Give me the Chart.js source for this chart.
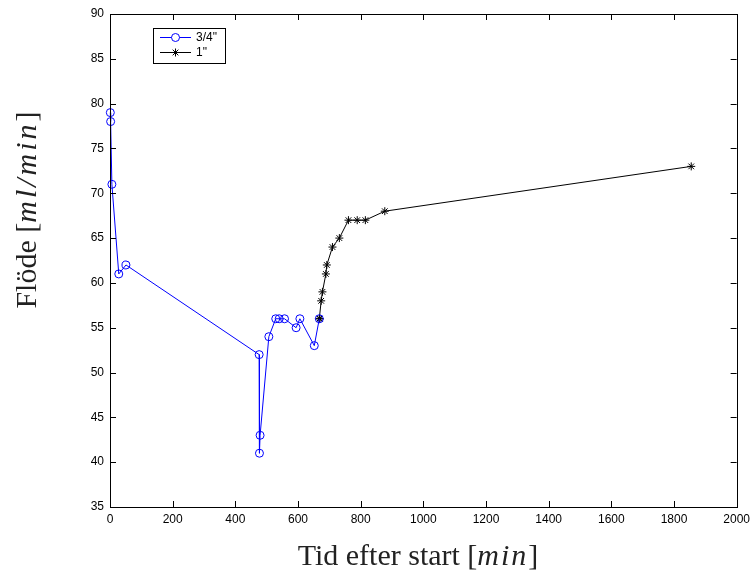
<!DOCTYPE html>
<html>
<head>
<meta charset="utf-8">
<script src="https://cdn.jsdelivr.net/npm/chart.js@4"></script>
<style>
  body { margin: 0; background: #fff; }
  #wrap { width: 755px; height: 583px; }
</style>
</head>
<body>
<div id="wrap"><canvas id="flowChart" width="755" height="583"></canvas></div>
<script>
// 3/4" hose
const timeSmall = [1, 2, 6, 28, 51, 476, 477, 479, 507, 529, 540, 557, 594, 606, 652, 668];
const flowSmall = [79, 78, 71, 61, 62, 52, 41, 43, 54, 56, 56, 56, 55, 56, 53, 56];
// 1" hose
const timeLarge = [668, 670, 674, 678, 689, 692, 710, 732, 761, 789, 815, 877, 1855];
const flowLarge = [56, 56, 58, 59, 61, 62, 64, 65, 67, 67, 67, 68, 73];

const seriesLabels = ['3/4"', '1"'];
const xTitle = ['Tid efter start [', 'min', ']'];
const yTitle = ['Flöde [', 'ml/min', ']'];

function toPoints(xs, ys) {
    return xs.map((x, i) => ({ x: x, y: ys[i] }));
}

// draw text parts, alternating normal / italic
function drawMixed(ctx, parts, x, y, size, spacing) {
    const fonts = parts.map((p, i) => (i % 2 === 1 ? 'italic ' : '') + size + 'px "Liberation Serif", "DejaVu Serif", serif');
    const widths = parts.map((p, i) => {
        ctx.font = fonts[i];
        return ctx.measureText(p).width + (i % 2 === 1 ? spacing * p.length : 0);
    });
    const total = widths.reduce((s, w) => s + w, 0);
    let cx = x - total / 2;
    parts.forEach((p, i) => {
        ctx.font = fonts[i];
        if (i % 2 === 1) {
            for (const ch of p) {
                ctx.fillText(ch, cx, y);
                cx += ctx.measureText(ch).width + spacing;
            }
        } else {
            ctx.fillText(p, cx, y);
            cx += widths[i];
        }
    });
}

const framePlugin = {
    id: 'frame',
    afterDraw(chart) {
        const ctx = chart.ctx;
        const a = chart.chartArea;
        const xs = chart.scales.x, ys = chart.scales.y;
        ctx.save();
        ctx.strokeStyle = '#000';
        ctx.lineWidth = 1;
        ctx.strokeRect(Math.round(a.left) + 0.5, Math.round(a.top) + 0.5, Math.round(a.right - a.left), Math.round(a.bottom - a.top));
        const tl = 6;
        ctx.beginPath();
        xs.ticks.forEach(t => {
            const px = Math.round(xs.getPixelForValue(t.value)) + 0.5;
            ctx.moveTo(px, a.bottom); ctx.lineTo(px, a.bottom - tl);
            ctx.moveTo(px, a.top); ctx.lineTo(px, a.top + tl);
        });
        ys.ticks.forEach(t => {
            const py = Math.round(ys.getPixelForValue(t.value)) + 0.5;
            ctx.moveTo(a.left, py); ctx.lineTo(a.left + tl, py);
            ctx.moveTo(a.right, py); ctx.lineTo(a.right - tl, py);
        });
        ctx.stroke();

        // axis titles
        ctx.fillStyle = '#222';
        ctx.textBaseline = 'alphabetic';
        drawMixed(ctx, xTitle, 418, 565, 30, 2);
        ctx.save();
        ctx.translate(36, 210);
        ctx.rotate(-Math.PI / 2);
        drawMixed(ctx, yTitle, 0, 0, 30, 3);
        ctx.restore();

        // legend
        const lx = 153, ly = 28, lw = 72, lh = 35;
        ctx.fillStyle = '#fff';
        ctx.fillRect(lx, ly, lw, lh);
        ctx.strokeStyle = '#000';
        ctx.strokeRect(lx + 0.5, ly + 0.5, lw, lh);
        ctx.textBaseline = 'middle';
        chart.data.datasets.forEach((ds, i) => {
            const yy = ly + 9.5 + i * 15;
            ctx.strokeStyle = ds.borderColor;
            ctx.beginPath();
            ctx.moveTo(lx + 7, yy); ctx.lineTo(lx + 38, yy);
            ctx.stroke();
            Chart.helpers.drawPoint(ctx, { pointStyle: ds.pointStyle, radius: 4, borderWidth: 1 }, lx + 22.5, yy);
            ctx.fillStyle = '#000';
            ctx.font = '12px "Liberation Sans", Arial, sans-serif';
            ctx.textAlign = 'left';
            ctx.fillText(ds.label, lx + 43, yy);
        });
        ctx.restore();
    }
};

function createChart() {
    const ctx = document.getElementById('flowChart').getContext('2d');
    new Chart(ctx, {
        type: 'scatter',
        data: {
            datasets: [{
                label: seriesLabels[0],
                data: toPoints(timeSmall, flowSmall),
                showLine: true,
                clip: false,
                borderColor: '#0000ff',
                backgroundColor: 'rgba(0,0,0,0)',
                borderWidth: 1,
                pointStyle: 'circle',
                pointRadius: 4,
                pointBorderWidth: 1
            },
            {
                label: seriesLabels[1],
                data: toPoints(timeLarge, flowLarge),
                showLine: true,
                clip: false,
                borderColor: '#000000',
                backgroundColor: 'rgba(0,0,0,0)',
                borderWidth: 1,
                pointStyle: 'star',
                pointRadius: 4,
                pointBorderWidth: 1
            }]
        },
        options: {
            responsive: false,
            animation: false,
            layout: { padding: { left: 0, right: 17, top: 14, bottom: 0 } },
            plugins: { legend: { display: false }, tooltip: { enabled: false } },
            scales: {
                x: {
                    type: 'linear',
                    min: 0, max: 2000,
                    grid: { display: false, drawTicks: false },
                    border: { display: false },
                    ticks: {
                        stepSize: 200, color: '#000', padding: 5,
                        font: { family: '"Liberation Sans", Arial, sans-serif', size: 12 },
                        callback: v => String(v)
                    },
                    afterFit(scale) { scale.height = 76; }
                },
                y: {
                    min: 35, max: 90,
                    grid: { display: false, drawTicks: false },
                    border: { display: false },
                    ticks: {
                        stepSize: 5, color: '#000', padding: 6,
                        font: { family: '"Liberation Sans", Arial, sans-serif', size: 12 },
                        callback: v => String(v)
                    },
                    afterFit(scale) { scale.width = 110; }
                }
            }
        },
        plugins: [framePlugin]
    });
}

createChart();
</script>
</body>
</html>
